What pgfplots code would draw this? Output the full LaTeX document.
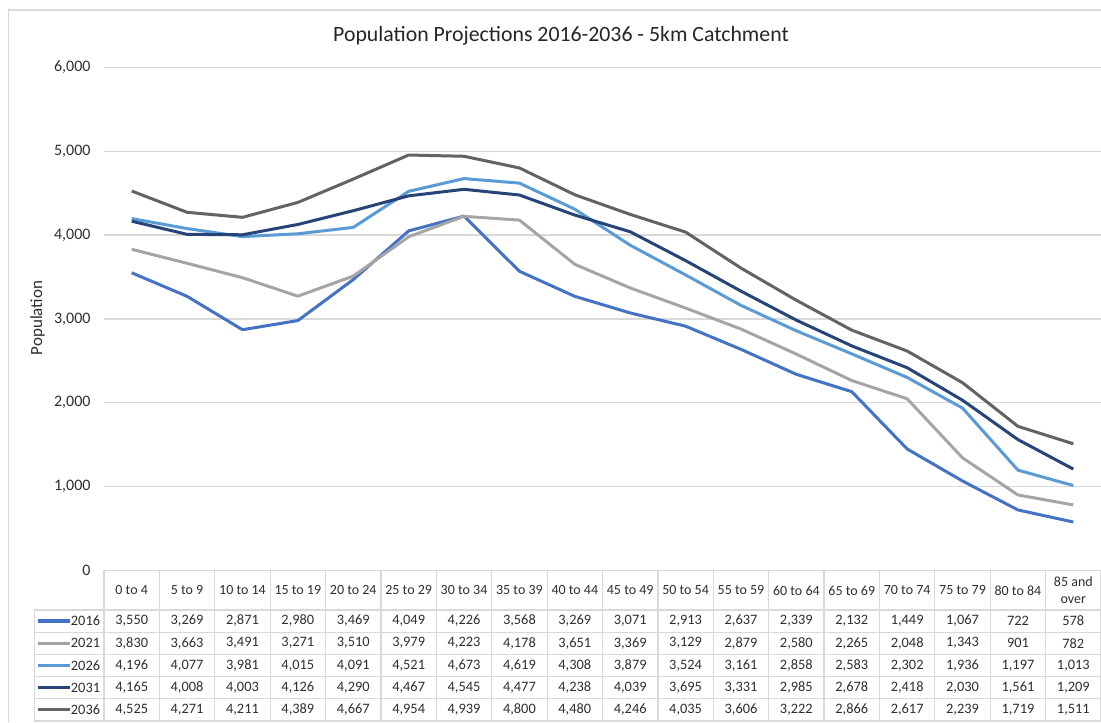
\documentclass[border=0pt]{standalone}
\usepackage{fontspec}
\setmainfont{Carlito}
\usepackage{pgfplots}
\usepackage{pgfplotstable}
\pgfplotsset{compat=1.18}

\definecolor{c2016}{HTML}{4472C4}
\definecolor{c2021}{HTML}{A5A5A5}
\definecolor{c2026}{HTML}{5B9BD5}
\definecolor{c2031}{HTML}{264478}
\definecolor{c2036}{HTML}{636363}
\definecolor{gridc}{HTML}{D9D9D9}
\definecolor{txt}{HTML}{2E2E2E}

% population by age band, one column per projection year
\pgfplotstableread{
idx y2016 y2021 y2026 y2031 y2036
0   3550  3830  4196  4165  4525
1   3269  3663  4077  4008  4271
2   2871  3491  3981  4003  4211
3   2980  3271  4015  4126  4389
4   3469  3510  4091  4290  4667
5   4049  3979  4521  4467  4954
6   4226  4223  4673  4545  4939
7   3568  4178  4619  4477  4800
8   3269  3651  4308  4238  4480
9   3071  3369  3879  4039  4246
10  2913  3129  3524  3695  4035
11  2637  2879  3161  3331  3606
12  2339  2580  2858  2985  3222
13  2132  2265  2583  2678  2866
14  1449  2048  2302  2418  2617
15  1067  1343  1936  2030  2239
16  722   901   1197  1561  1719
17  578   782   1013  1209  1511
}\pop

\pgfkeys{/pgf/number format/.cd,1000 sep={,},assume math mode=true}

\begin{document}
\begin{tikzpicture}
\path[use as bounding box] (0,0) rectangle (550.5pt,361pt);

\begin{axis}[
  at={(52pt,75.75pt)}, anchor=south west,
  scale only axis, width=498.5pt, height=251.6pt,
  xmin=-0.5, xmax=17.5, ymin=0, ymax=6000,
  xtick=\empty, ytick={0,1000,...,6000},
  ymajorgrids, grid style={gridc, line width=0.6pt},
  axis line style={draw=none}, major tick length=0pt,
  yticklabel style={font=\fontsize{8}{9.5}\selectfont, text=txt, xshift=-3.2pt},
  /pgf/number format/1000 sep={,},
  /pgf/number format/assume math mode=true,
  every axis plot/.append style={line width=1.5pt, mark=none, line join=round},
]
\addplot[c2016] table[x=idx,y=y2016]{\pop};
\addplot[c2021] table[x=idx,y=y2021]{\pop};
\addplot[c2026] table[x=idx,y=y2026]{\pop};
\addplot[c2031] table[x=idx,y=y2031]{\pop};
\addplot[c2036] table[x=idx,y=y2036]{\pop};
\end{axis}

% data table and frame, in pixel units of the reference (origin top left)
\begin{scope}[x=0.5pt,y=-0.5pt,yshift=361pt]
\draw[gridc, line width=0.6pt] (8.3,722) -- (8.3,10) -- (1101,10);
\node[font=\fontsize{10.9}{13}\selectfont, text=black!85] at (561,36)
  {Population Projections 2016-2036 - 5km Catchment};
\node[rotate=90, font=\fontsize{8.5}{10}\selectfont, text=txt] at (37.7,318) {Population};

\foreach \k in {0,...,18}
  \draw[gridc, line width=0.6pt] ({104+55.39*\k},570.5) -- ({104+55.39*\k},722);
\foreach \yy in {610,632.2,654.4,676.6,698.8,721}
  \draw[gridc, line width=0.6pt] (34.3,\yy) -- (1101,\yy);
\draw[gridc, line width=0.6pt] (34.3,610) -- (34.3,722);

\foreach \k/\lab in {0/0 to 4,1/5 to 9,2/10 to 14,3/15 to 19,4/20 to 24,5/25 to 29,
  6/30 to 34,7/35 to 39,8/40 to 44,9/45 to 49,10/50 to 54,11/55 to 59,12/60 to 64,
  13/65 to 69,14/70 to 74,15/75 to 79,16/80 to 84,17/{85 and\\over}}
  \node[align=center, font=\fontsize{7}{8.5}\selectfont, text=txt, inner sep=0pt]
    at ({104+55.39*(\k+0.5)},590.5) {\lab};

\foreach \r/\col/\name in {0/y2016/2016,1/y2021/2021,2/y2026/2026,3/y2031/2031,4/y2036/2036}{
  \draw[c\name, line width=1.6pt] (37.7,{621+22.2*\r}) -- (70,{621+22.2*\r});
  \node[anchor=east, font=\fontsize{7.2}{8.5}\selectfont, text=txt, inner sep=0pt]
    at (100.5,{621+22.2*\r}) {\name};
  \foreach \k in {0,...,17}{
    \pgfplotstablegetelem{\k}{\col}\of\pop
    \node[font=\fontsize{7.2}{8.5}\selectfont, text=txt, inner sep=0pt]
      at ({104+55.39*(\k+0.5)},{621+22.2*\r}) {\pgfmathprintnumber{\pgfplotsretval}};
  }
}
\end{scope}
\end{tikzpicture}
\end{document}
